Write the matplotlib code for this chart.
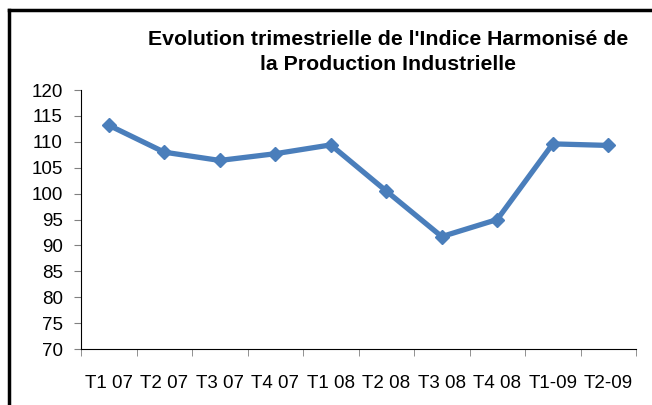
import numpy as np
import matplotlib.pyplot as plt
from matplotlib.lines import Line2D

plt.rc('font', family='Liberation Sans', size=13.5)

# Donnees
trimestres = ['T1 07', 'T2 07', 'T3 07', 'T4 07', 'T1 08',
              'T2 08', 'T3 08', 'T4 08', 'T1-09', 'T2-09']
ihpi = [113.2, 108.0, 106.4, 107.7, 109.4, 100.5, 91.7, 95.0, 109.6, 109.3]
yticks = np.arange(70, 121, 5)

fig = plt.figure(figsize=(6.52, 4.05), dpi=100)
ax = fig.add_axes([81/652, 1 - 349/405, (636-81)/652, (349-90)/405])

x = np.arange(len(trimestres))
ax.plot(x, ihpi, color='#4A7EBB', linewidth=3.8, marker='D', markersize=7,
        solid_joinstyle='miter')

# Axes
ax.set_xlim(-0.5, len(trimestres) - 0.5)
ax.set_ylim(70, 120)
ax.set_yticks(yticks)
ax.set_xticks(x)
ax.set_xticklabels(trimestres)
ax.set_xticks(np.arange(-0.5, len(trimestres)), minor=True)
ax.tick_params(axis='x', which='major', length=0, pad=19)
ax.tick_params(axis='x', which='minor', length=5, color='#808080')
ax.tick_params(axis='y', length=5, color='#808080', pad=8)
ax.spines['top'].set_visible(False)
ax.spines['right'].set_visible(False)

# Titre
fig.text(388/652, 1 - 52/405,
         "Evolution trimestrielle de l'Indice Harmonisé de\nla Production Industrielle",
         ha='center', va='center', fontweight='bold', fontsize=15.3, linespacing=1.35)

# Cadre (haut et gauche)
fig.add_artist(Line2D([9/652, 9/652], [0, 1 - 10/405], color='black', lw=2.5,
                      transform=fig.transFigure))
fig.add_artist(Line2D([9/652, 1], [1 - 10/405, 1 - 10/405], color='black', lw=2.5,
                      transform=fig.transFigure))

fig.savefig('out.png', dpi=100)
